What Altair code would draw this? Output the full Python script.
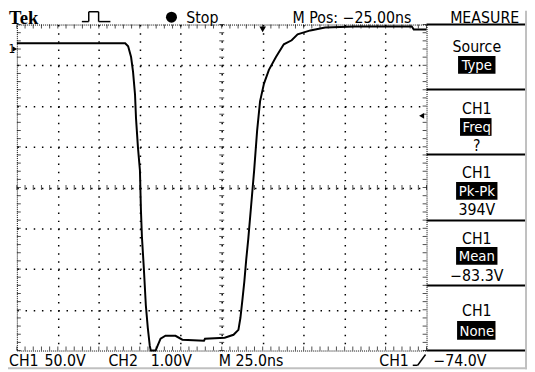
import altair as alt
import pandas as pd

# ---- waveform: time (ns, trigger = 0) and CH1 volts ----
t_ns = [-150.0, -83.9, -82.1, -80.3, -79.1, -77.9, -77.3, -76.1, -74.9, -74.3, -73.7,
        -72.5, -71.3, -70.1, -68.9, -68.3, -65.3, -64.1, -62.3, -59.3, -53.2, -49.0,
        -35.8, -35.2, -23.2, -17.8, -14.8, -13.6, -12.4, -11.2, -10.0, -8.8, -7.0,
        -5.2, -3.4, -1.6, 0.8, 3.8, 8.1, 12.9, 17.7, 21.3, 29.1, 38.1, 56.1, 91.0,
        92.2, 100.0]
v_volts = [7.0, 7.0, 3.4, -9.9, -28.0, -55.8, -84.8, -121.1, -148.9, -197.2, -229.8,
           -269.7, -314.4, -342.2, -364.0, -370.0, -370.0, -364.0, -355.5, -351.9,
           -351.9, -356.7, -357.9, -355.5, -354.3, -350.7, -344.6, -330.1, -308.4,
           -285.4, -257.6, -233.4, -191.1, -148.9, -100.5, -64.3, -42.5, -25.6, -9.9,
           5.8, 10.7, 17.9, 22.8, 26.4, 27.6, 27.6, 24.0, 24.0]

# screen scales: 25 ns/div (10 div), 50 V/div (8 div)
t_domain = [-150, 100]
v_domain = [-370, 30]
t_grid = [-125, -100, -75, -50, -25, 0, 25, 50, 75]
v_grid = [-320, -270, -220, -170, -120, -70, -20]
t_minor = [-150 + 5 * i for i in range(51)]
v_minor = [-370 + 10 * i for i in range(41)]
t_center = -25
v_center = -170
ground_v = 0
trigger_t = 0
trigger_marker_v = -82

# readouts
top_texts = ["Tek", "Stop", "M Pos: \u221225.00ns", "MEASURE"]
bottom_texts = ["CH1", "50.0V", "CH2", "1.00V", "M 25.0ns", "CH1", "\u221274.0V"]
panel_heads = ["Source", "CH1", "CH1", "CH1", "CH1"]
panel_keys = ["Type", "Freq", "Pk-Pk", "Mean", "None"]
panel_vals = ["", "?", "394V", "\u221283.3V", ""]

FONT = "Liberation Sans Narrow, DejaVu Sans Condensed, Liberation Sans, sans-serif"
X0, Y0 = 17, 22  # page position of plot origin


def px(x):
    return x - X0


def py(y):
    return y - Y0


one = alt.InlineData(values=[{"a": 1}])

xs = alt.Scale(domain=t_domain, nice=False, zero=False)
ys = alt.Scale(domain=v_domain, nice=False, zero=False)

wave_df = pd.DataFrame({"t": t_ns, "V": v_volts})

base = alt.Chart(wave_df).mark_line(color="black", strokeWidth=2).encode(
    x=alt.X("t:Q", scale=xs,
            axis=alt.Axis(values=t_grid, grid=True, gridDash=[1.5, 6.775], gridColor="black",
                          gridWidth=1.5, gridOpacity=1, labels=False, ticks=False, domain=False,
                          title=None)),
    y=alt.Y("V:Q", scale=ys,
            axis=alt.Axis(values=v_grid, grid=True, gridDash=[1.5, 6.82], gridColor="black",
                          gridWidth=1.5, gridOpacity=1, labels=False, ticks=False, domain=False,
                          title=None)),
)


def ticks(df, orient, size, xo=0, yo=0):
    return alt.Chart(df).mark_tick(orient=orient, size=size, thickness=1, color="black",
                                   xOffset=xo, yOffset=yo).encode(
        x=alt.X("t:Q", scale=xs), y=alt.Y("V:Q", scale=ys))


layers = []
layers.append(ticks(pd.DataFrame({"t": t_minor, "V": [v_center] * len(t_minor)}), "vertical", 5))
layers.append(ticks(pd.DataFrame({"t": [t_center] * len(v_minor), "V": v_minor}), "horizontal", 5))
layers.append(ticks(pd.DataFrame({"t": t_minor, "V": [v_domain[1]] * len(t_minor)}), "vertical", 4, yo=2))
layers.append(ticks(pd.DataFrame({"t": t_minor, "V": [v_domain[0]] * len(t_minor)}), "vertical", 4, yo=-2))
layers.append(ticks(pd.DataFrame({"t": [t_domain[0]] * len(v_minor), "V": v_minor}), "horizontal", 4, xo=2))
layers.append(ticks(pd.DataFrame({"t": [t_domain[1]] * len(v_minor), "V": v_minor}), "horizontal", 4, xo=-2))
layers.append(base)

# markers
layers.append(alt.Chart(pd.DataFrame({"V": [ground_v]})).mark_point(
    shape="triangle-right", filled=True, color="black", size=30, opacity=1).encode(
    x=alt.value(px(15)), y=alt.Y("V:Q", scale=ys)))
layers.append(alt.Chart(pd.DataFrame({"V": [ground_v]})).mark_text(
    text="1", fontSize=12, font=FONT, align="left", baseline="middle", color="black").encode(
    x=alt.value(px(8.5)), y=alt.Y("V:Q", scale=ys)))
layers.append(alt.Chart(pd.DataFrame({"t": [trigger_t]})).mark_point(
    shape="triangle-down", filled=True, color="black", size=45, opacity=1).encode(
    x=alt.X("t:Q", scale=xs), y=alt.value(py(27))))
layers.append(alt.Chart(pd.DataFrame({"V": [trigger_marker_v]})).mark_point(
    shape="triangle-left", filled=True, color="black", size=35, opacity=1).encode(
    x=alt.value(px(428)), y=alt.Y("V:Q", scale=ys)))


def txt(s, x, y, size=17, align="left", color="black", font=FONT, weight="normal"):
    return alt.Chart(one).mark_text(text=s, align=align, baseline="alphabetic", fontSize=size,
                                    font=font, fontWeight=weight, color=color).encode(
        x=alt.value(px(x)), y=alt.value(py(y)))


def rule(x1, y1, x2, y2, w=2, color="black"):
    return alt.Chart(one).mark_rule(color=color, strokeWidth=w).encode(
        x=alt.value(px(x1)), x2=alt.value(px(x2)), y=alt.value(py(y1)), y2=alt.value(py(y2)))


def box(x1, y1, x2, y2, color="black"):
    return alt.Chart(one).mark_rect(color=color).encode(
        x=alt.value(px(x1)), x2=alt.value(px(x2)), y=alt.value(py(y1)), y2=alt.value(py(y2)))


# top bar
layers.append(txt(top_texts[0], 9, 21, size=19, font="Liberation Serif, DejaVu Serif, serif", weight="bold"))
for (a, b, c, d) in [(83, 19, 90, 19), (90, 19, 90, 9), (90, 9, 100, 9), (100, 9, 100, 19), (100, 19, 112, 19)]:
    layers.append(rule(a, b, c, d, w=1.5))
layers.append(alt.Chart(one).mark_point(shape="circle", filled=True, color="black", size=125, opacity=1)
              .encode(x=alt.value(px(174)), y=alt.value(py(14.5))))
layers.append(txt(top_texts[1], 189, 20, size=16))
layers.append(txt(top_texts[2], 297, 20, size=16))
layers.append(txt(top_texts[3], 492, 20, size=16, align="center"))

# bottom bar
bx = [9, 45, 110, 153, 222, 385, 440]
for s, x in zip(bottom_texts, bx):
    layers.append(txt(s, x, 369, size=16))
layers.append(rule(419, 368, 424, 368, w=1.5))
layers.append(rule(424, 368, 432, 357, w=1.5))

# side panel
seps = [22, 88, 154, 221, 287, 353]
for yy in seps:
    layers.append(rule(433, yy, 535, yy, w=2))
head_y = [50, 113, 178, 245, 318]
key_box = [(465, 54, 503, 72), (467, 117, 499, 135), (463, 182, 505, 200),
           (463, 248, 505, 266), (464, 323, 503, 342)]
val_y = [0, 150, 215, 282, 0]
cx = 484
for i in range(5):
    layers.append(txt(panel_heads[i], cx, head_y[i], size=16, align="center"))
    x1, y1, x2, y2 = key_box[i]
    layers.append(box(x1, y1, x2, y2))
    layers.append(txt(panel_keys[i], cx, y2 - 4, size=15, align="center", color="white"))
    if panel_vals[i]:
        layers.append(txt(panel_vals[i], cx, val_y[i], size=16, align="center"))

# screenshot frame
layers.append(rule(534, 8, 534, 372, w=2, color="#c0c0c0"))
layers.append(rule(8, 371, 535, 371, w=2, color="#c0c0c0"))

chart = alt.layer(*layers).properties(
    width=416, height=331,
    autosize=alt.AutoSizeParams(type="none"),
    padding={"left": 9, "top": 14, "right": 102, "bottom": 19},
    background="white",
).configure_view(stroke="black", strokeWidth=1, strokeDash=[1, 1])

chart.save("out.html", embed_options={"renderer": "svg", "actions": False})
